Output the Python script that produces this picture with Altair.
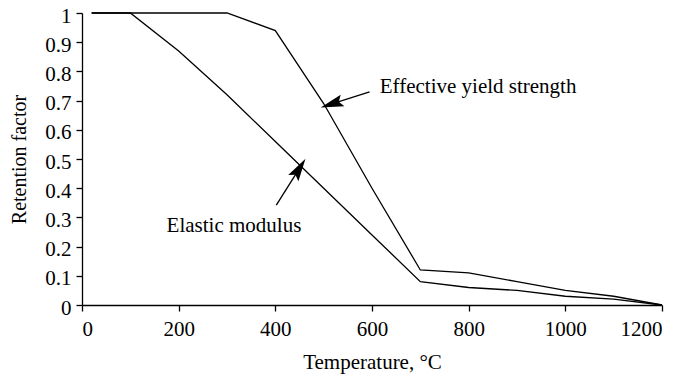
import altair as alt
import pandas as pd

# Data
temps = [20, 100, 200, 300, 400, 500, 600, 700, 800, 900, 1000, 1100, 1200]
yield_vals = [1, 1, 1, 1, 0.94, 0.69, 0.40, 0.12, 0.11, 0.08, 0.05, 0.03, 0]
elastic_vals = [1, 1, 0.87, 0.72, 0.56, 0.40, 0.24, 0.08, 0.06, 0.05, 0.03, 0.02, 0]

x_ticks = [0, 200, 400, 600, 800, 1000, 1200]
y_ticks = [0, 0.1, 0.2, 0.3, 0.4, 0.5, 0.6, 0.7, 0.8, 0.9, 1]

# annotations (data coordinates)
label_text = ["Effective yield strength", "Elastic modulus"]
label_x = [616, 175]
label_y = [0.726, 0.251]
arrow_x0 = [595, 402]
arrow_y0 = [0.730, 0.342]
arrow_x1 = [525, 445]
arrow_y1 = [0.693, 0.455]
head_x = [525, 445]
head_y = [0.693, 0.455]
head_angle = [252, 32]

FONT = "Liberation Serif"
ARROW = "M0,-1L0.38,0.45L0,0.2L-0.38,0.45Z"

rows = []
for t, v in zip(temps, yield_vals):
    rows.append({"T": t, "v": v, "series": "Effective yield strength"})
for t, v in zip(temps, elastic_vals):
    rows.append({"T": t, "v": v, "series": "Elastic modulus"})
df = pd.DataFrame(rows)

ann = pd.DataFrame({
    "text": label_text, "lx": label_x, "ly": label_y,
    "x0": arrow_x0, "y0": arrow_y0, "x1": arrow_x1, "y1": arrow_y1,
    "hx": head_x, "hy": head_y, "ang": head_angle,
})

xscale = alt.Scale(domain=[0, 1200], nice=False, zero=False)
yscale = alt.Scale(domain=[0, 1], nice=False)

x_axis = alt.Axis(values=x_ticks, format="d", title="Temperature, °C",
                  titlePadding=12, labelPadding=7, labelOverlap=False,
                  labelFont=FONT, labelFontSize=21, titleFont=FONT,
                  titleFontSize=21)
y_axis = alt.Axis(values=y_ticks, format=".1~f", title="Retention factor",
                  titlePadding=15, labelPadding=5, labelOverlap=False,
                  labelOffset=3, labelFont=FONT, labelFontSize=21,
                  titleFont=FONT, titleFontSize=20)

lines = alt.Chart(df).mark_line(color="black", strokeWidth=1.3).encode(
    x=alt.X("T:Q", scale=xscale, axis=x_axis),
    y=alt.Y("v:Q", scale=yscale, axis=y_axis),
    detail="series:N",
)

rules = alt.Chart(ann).mark_rule(color="black", strokeWidth=1.3).encode(
    x=alt.X("x0:Q", scale=xscale, axis=x_axis),
    y=alt.Y("y0:Q", scale=yscale, axis=y_axis),
    x2="x1:Q", y2="y1:Q"
)

heads = alt.Chart(ann).mark_point(shape=ARROW, filled=True, color="black",
                                  opacity=1, size=1000, strokeWidth=0).encode(
    x=alt.X("hx:Q", scale=xscale, axis=x_axis),
    y=alt.Y("hy:Q", scale=yscale, axis=y_axis),
    angle=alt.Angle("ang:Q", scale=None)
)

texts = alt.Chart(ann).mark_text(font=FONT, fontSize=21, align="left",
                                 baseline="alphabetic", color="black").encode(
    x=alt.X("lx:Q", scale=xscale, axis=x_axis),
    y=alt.Y("ly:Q", scale=yscale, axis=y_axis),
    text="text:N"
)

chart = alt.layer(lines, rules, heads, texts).properties(
    width=580, height=292,
    autosize=alt.AutoSizeParams(type="none"),
    padding={"left": 74, "top": 5, "right": 15, "bottom": 70},
).configure_view(stroke=None).configure_axis(
    grid=False, domainColor="black", tickColor="black", domainWidth=1.3,
    tickWidth=1.3, tickSize=6, titleFontWeight="normal",
    labelColor="black", titleColor="black",
)

chart.save("out.html", embed_options={"renderer": "svg", "actions": False})
